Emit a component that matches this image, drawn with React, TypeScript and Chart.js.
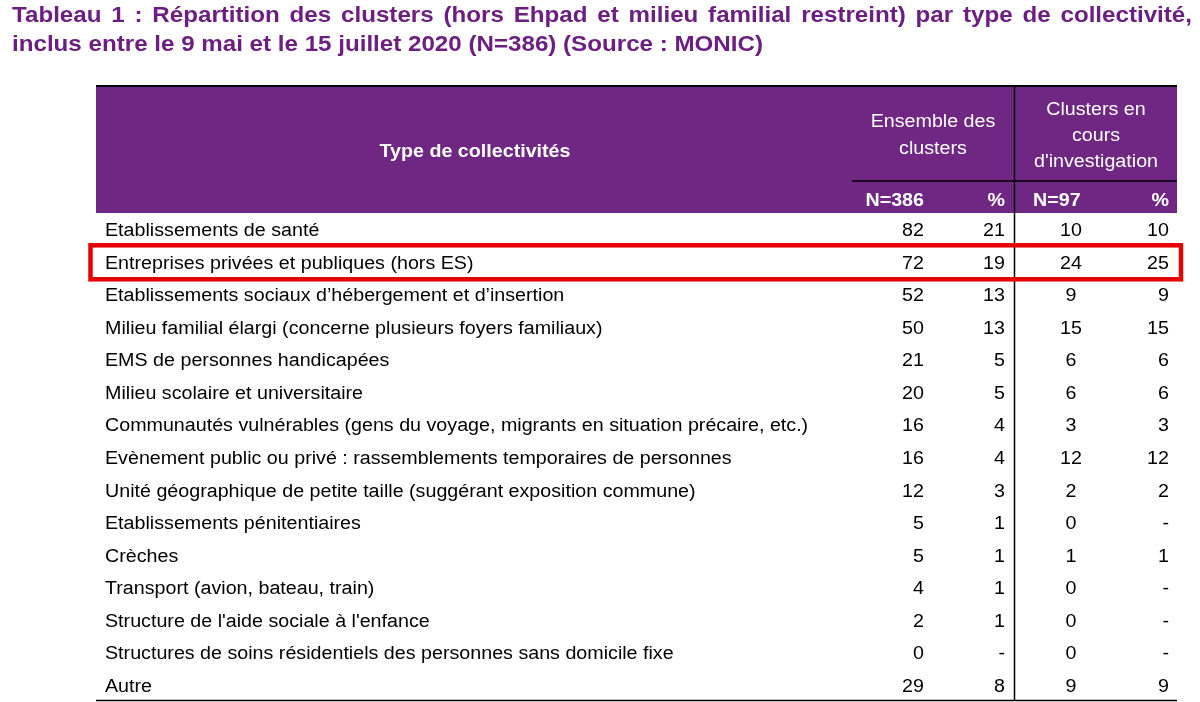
import React, { useEffect, useRef } from 'react';
import { Chart, registerables } from 'chart.js';

Chart.register(...registerables);

const titleLine1 =
  'Tableau 1 : Répartition des clusters (hors Ehpad et milieu familial restreint) par type de collectivité,';
const titleLine2 = 'inclus entre le 9 mai et le 15 juillet 2020 (N=386) (Source : MONIC)';

const categories = [
  'Etablissements de santé',
  'Entreprises privées et publiques (hors ES)',
  'Etablissements sociaux d\u2019hébergement et d\u2019insertion',
  'Milieu familial élargi (concerne plusieurs foyers familiaux)',
  'EMS de personnes handicapées',
  'Milieu scolaire et universitaire',
  'Communautés vulnérables (gens du voyage, migrants en situation précaire, etc.)',
  'Evènement public ou privé : rassemblements temporaires de personnes',
  'Unité géographique de petite taille (suggérant exposition commune)',
  'Etablissements pénitentiaires',
  'Crèches',
  'Transport (avion, bateau, train)',
  "Structure de l'aide sociale à l'enfance",
  'Structures de soins résidentiels des personnes sans domicile fixe',
  'Autre',
];
const clustersAll = [82, 72, 52, 50, 21, 20, 16, 16, 12, 5, 5, 4, 2, 0, 29];
const pctAll: (number | null)[] = [21, 19, 13, 13, 5, 5, 4, 4, 3, 1, 1, 1, 1, null, 8];
const clustersInv = [10, 24, 9, 15, 6, 6, 3, 12, 2, 0, 1, 0, 0, 0, 9];
const pctInv: (number | null)[] = [10, 25, 9, 15, 6, 6, 3, 12, 2, null, 1, null, null, null, 9];

const headerFirst = 'Type de collectivités';
const headerAll = ['Ensemble des', 'clusters'];
const headerInv = ['Clusters en', 'cours', "d'investigation"];
const subHeaders = ['N=386', '%', 'N=97', '%'];
const highlightedRow = 1;

const FONT = 'Arial, "Liberation Sans", sans-serif';
const PURPLE = '#702683';
const TITLE_PURPLE = '#6C1F80';
const RED = '#E60000';
const SX = 1.093;

const fmt = (v: number | null) => (v === null ? '-' : String(v));

function drawText(
  ctx: CanvasRenderingContext2D,
  text: string,
  x: number,
  y: number,
  align: CanvasTextAlign,
  sx: number
) {
  ctx.save();
  ctx.translate(x, y);
  ctx.scale(sx, 1);
  ctx.textAlign = align;
  ctx.fillText(text, 0, 0);
  ctx.restore();
}

const tablePlugin = {
  id: 'tableDraw',
  afterDraw(chart: any) {
    const ctx: CanvasRenderingContext2D = chart.ctx;
    const ys = chart.scales.y;
    const a = chart.chartArea;
    const L = a.left;
    const R = a.right;
    const rowH = ys.getPixelForValue(1) - ys.getPixelForValue(0);
    const bodyTop = ys.getPixelForValue(0) - rowH / 2;
    const bodyBottom = ys.getPixelForValue(categories.length - 1) + rowH / 2;
    const headTop = 86;
    const divX = 1014.5;
    const subTop = 181;

    ctx.save();
    ctx.textBaseline = 'alphabetic';

    // Title
    ctx.fillStyle = TITLE_PURPLE;
    ctx.font = `bold 22px ${FONT}`;
    const tx0 = 12;
    const w2 = ctx.measureText(titleLine2).width;
    const tsx = (763 - tx0) / w2;
    drawText(ctx, titleLine2, tx0, 50.5, 'left', tsx);
    const words = titleLine1.split(' ');
    const widths = words.map((w) => ctx.measureText(w).width * tsx);
    const sum = widths.reduce((p, c) => p + c, 0);
    const gap = (1192 - tx0 - sum) / (words.length - 1);
    let xx = tx0;
    words.forEach((w, i) => {
      drawText(ctx, w, xx, 21.5, 'left', tsx);
      xx += widths[i] + gap;
    });

    // Header fill
    ctx.fillStyle = PURPLE;
    ctx.fillRect(L, headTop, R - L, bodyTop - headTop);

    // Header texts
    ctx.fillStyle = '#FFFFFF';
    ctx.font = `bold 18px ${FONT}`;
    drawText(ctx, headerFirst, 475, 157, 'center', SX);
    ctx.font = `18px ${FONT}`;
    headerAll.forEach((t, i) => drawText(ctx, t, 933, 127 + i * 26.5, 'center', SX));
    headerInv.forEach((t, i) => drawText(ctx, t, 1096, 115 + i * 26, 'center', SX));
    ctx.font = `bold 18px ${FONT}`;
    const subBase = 206;
    drawText(ctx, subHeaders[0], 924, subBase, 'right', SX);
    drawText(ctx, subHeaders[1], 1005, subBase, 'right', SX);
    drawText(ctx, subHeaders[2], 1033, subBase, 'left', SX);
    drawText(ctx, subHeaders[3], 1169, subBase, 'right', SX);

    // Lines
    ctx.strokeStyle = '#000000';
    ctx.lineWidth = 2;
    ctx.beginPath();
    ctx.moveTo(L, headTop);
    ctx.lineTo(R, headTop);
    ctx.stroke();
    ctx.lineWidth = 1.5;
    ctx.beginPath();
    ctx.moveTo(852, subTop);
    ctx.lineTo(R, subTop);
    ctx.stroke();
    ctx.beginPath();
    ctx.moveTo(divX, headTop);
    ctx.lineTo(divX, bodyBottom);
    ctx.stroke();
    ctx.beginPath();
    ctx.moveTo(L, bodyBottom - 0.5);
    ctx.lineTo(R, bodyBottom - 0.5);
    ctx.stroke();

    // Body
    ctx.fillStyle = '#000000';
    ctx.font = `18px ${FONT}`;
    categories.forEach((cat, i) => {
      const yc = ys.getPixelForValue(i) + 7;
      drawText(ctx, cat, 105, yc, 'left', SX);
      drawText(ctx, String(clustersAll[i]), 924, yc, 'right', SX);
      drawText(ctx, fmt(pctAll[i]), 1005, yc, 'right', SX);
      drawText(ctx, String(clustersInv[i]), 1071, yc, 'center', SX);
      drawText(ctx, fmt(pctInv[i]), 1169, yc, 'right', SX);
    });

    // Highlight box
    const hc = ys.getPixelForValue(highlightedRow);
    ctx.strokeStyle = RED;
    ctx.lineWidth = 4.5;
    ctx.strokeRect(90.5, hc - 16.5, 1181 - 90.5, 34);

    ctx.restore();
  },
};

export default function App() {
  const ref = useRef<HTMLCanvasElement | null>(null);
  useEffect(() => {
    if (!ref.current) return;
    const chart = new Chart(ref.current, {
      type: 'scatter',
      data: { datasets: [{ data: [], showLine: false }] },
      options: {
        animation: false,
        responsive: true,
        maintainAspectRatio: false,
        layout: { padding: { left: 96, right: 23, top: 213, bottom: 1 } },
        plugins: { legend: { display: false }, tooltip: { enabled: false }, title: { display: false } },
        scales: {
          x: { type: 'linear', min: 0, max: 1, display: false },
          y: { type: 'category', labels: categories, offset: true, display: false },
        },
      },
      plugins: [tablePlugin],
    } as any);
    return () => chart.destroy();
  }, []);
  return (
    <div style={{ position: 'absolute', left: 0, top: 0, width: 1200, height: 702, background: '#fff' }}>
      <canvas ref={ref} />
    </div>
  );
}
